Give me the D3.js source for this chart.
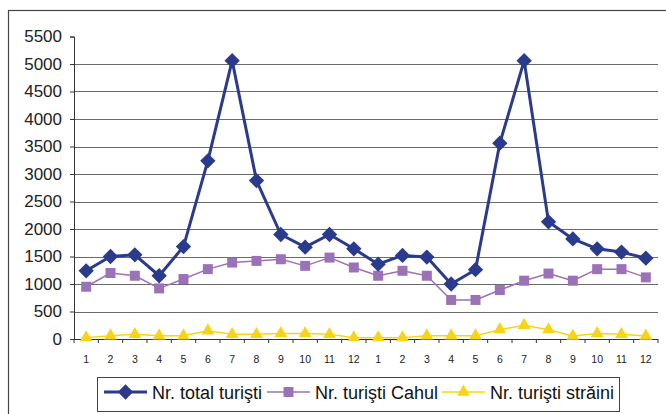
<!DOCTYPE html>
<html lang="ro">
<meta charset="UTF-8">
<style>
    body { margin: 0; background: #fff; }
    svg { display: block; font-family: "Liberation Sans", Arial, sans-serif; }
</style>
<body>
<svg id="chart" width="666" height="414"></svg>
<script src="https://cdnjs.cloudflare.com/ajax/libs/d3/7.8.5/d3.min.js"></script>
<script>
// month labels, two years back to back
const months = ["1","2","3","4","5","6","7","8","9","10","11","12",
                "1","2","3","4","5","6","7","8","9","10","11","12"];
const totalTuristi = [1240,1500,1530,1150,1680,3240,5060,2880,1900,1670,1900,1640,
                      1360,1520,1490,1000,1260,3560,5060,2130,1820,1640,1580,1470];
const cahulTuristi = [950,1200,1150,920,1090,1270,1390,1420,1450,1330,1480,1300,
                      1150,1240,1150,710,710,890,1060,1190,1060,1270,1270,1120];
const strainiTuristi = [25,60,85,60,60,150,85,85,100,100,85,25,
                        25,25,60,60,60,170,250,170,55,100,85,55];
const yTicks = [0,500,1000,1500,2000,2500,3000,3500,4000,4500,5000,5500];
const seriesNames = ["Nr. total turişti", "Nr. turişti Cahul", "Nr. turişti străini"];

const svg = d3.select('#chart');
const plotL = 74, plotR = 658, plotT = 36.5, plotB = 339;

// outer frame (runs off right/bottom edge in the original)
svg.append('rect')
    .attr('x', 8.5).attr('y', 10.5)
    .attr('width', 680).attr('height', 420)
    .attr('fill', 'none').attr('stroke', '#444').attr('stroke-width', 1.2);

const idx = d3.range(months.length);
const x = d3.scaleBand().domain(idx).range([plotL, plotR]);
const cx = i => x(i) + x.bandwidth() / 2;
const y = d3.scaleLinear().domain([0, 5500]).range([plotB, plotT]);

// gridlines (no line at the top value)
svg.append('g').selectAll('line')
    .data(yTicks.filter(v => v > 0 && v < 5500))
    .enter().append('line')
        .attr('x1', plotL).attr('x2', plotR)
        .attr('y1', d => Math.round(y(d)) + 0.5).attr('y2', d => Math.round(y(d)) + 0.5)
        .attr('stroke', '#6a6a6a').attr('stroke-width', 1.1);

// y axis
const yAxis = svg.append('g')
    .attr('transform', `translate(${plotL},0)`)
    .call(d3.axisLeft(y).tickValues(yTicks).tickFormat(d3.format('d')).tickSize(4).tickPadding(8));
yAxis.select('.domain').attr('stroke', '#333');
yAxis.selectAll('.tick line').attr('stroke', '#333');
yAxis.selectAll('text').attr('font-size', 17).attr('fill', '#222')
    .attr('font-family', '"Liberation Sans", Arial, sans-serif');

// x axis: ticks between categories
const xAxisG = svg.append('g');
xAxisG.append('line')
    .attr('x1', plotL).attr('x2', plotR)
    .attr('y1', plotB + 0.5).attr('y2', plotB + 0.5)
    .attr('stroke', '#333');
xAxisG.selectAll('.xt')
    .data(d3.range(months.length + 1))
    .enter().append('line')
        .attr('class', 'xt')
        .attr('x1', i => i < months.length ? x(i) : plotR)
        .attr('x2', i => i < months.length ? x(i) : plotR)
        .attr('y1', plotB).attr('y2', plotB + 4)
        .attr('stroke', '#333');
xAxisG.selectAll('text')
    .data(idx)
    .enter().append('text')
        .attr('x', i => cx(i))
        .attr('y', plotB + 24)
        .attr('text-anchor', 'middle')
        .attr('font-size', 10.5)
        .attr('fill', '#222')
        .text(i => months[i]);

const line = d3.line().x((d, i) => cx(i)).y(d => y(d));

const diamond = d3.symbol().type(d3.symbolDiamond2).size(150);
const square = d3.symbol().type(d3.symbolSquare).size(100);
const triangle = d3.symbol().type(d3.symbolTriangle).size(72);

const series = [
    {values: totalTuristi, color: '#2a3a8c', width: 3, sym: diamond},
    {values: cahulTuristi, color: '#9b72b8', width: 1.5, sym: square},
    {values: strainiTuristi, color: '#f7d417', width: 1.5, sym: triangle}
];

// draw last series first so total sits on top
series.slice().reverse().forEach(s => {
    svg.append('path')
        .datum(s.values)
        .attr('d', line)
        .attr('fill', 'none')
        .attr('stroke', s.color)
        .attr('stroke-width', s.width)
        .attr('stroke-linejoin', 'round');
    svg.append('g').selectAll('path')
        .data(s.values)
        .enter().append('path')
            .attr('d', s.sym)
            .attr('transform', (d, i) => `translate(${cx(i)},${y(d)})`)
            .attr('fill', s.color);
});

// legend
const leg = svg.append('g');
leg.append('rect')
    .attr('x', 97.5).attr('y', 377.5)
    .attr('width', 522).attr('height', 34)
    .attr('fill', '#fff').attr('stroke', '#444').attr('stroke-width', 1);

const legX = [104, 267, 442];
series.forEach((s, k) => {
    const g = leg.append('g').attr('transform', `translate(${legX[k]},392)`);
    g.append('line')
        .attr('x1', 0).attr('x2', 43)
        .attr('stroke', s.color).attr('stroke-width', s.width);
    g.append('path')
        .attr('d', s.sym)
        .attr('transform', 'translate(21.5,0)')
        .attr('fill', s.color);
    g.append('text')
        .attr('x', 48).attr('y', 6.5)
        .attr('font-size', 18)
        .attr('fill', '#111')
        .text(seriesNames[k]);
});
</script>
</body>
</html>
